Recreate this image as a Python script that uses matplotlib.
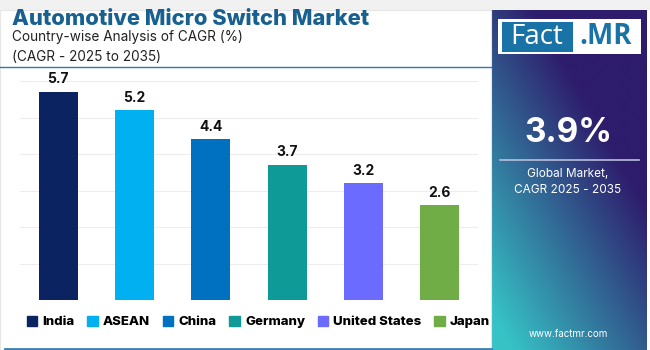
import numpy as np
import matplotlib.pyplot as plt
from matplotlib.patches import Rectangle

countries = ["India", "ASEAN", "China", "Germany", "United States", "Japan"]
cagr = [5.7, 5.2, 4.4, 3.7, 3.2, 2.6]
bar_colors = ["#0b2461", "#00b0f0", "#0070c0", "#0e9b97", "#6b6bff", "#70ad47"]

title = "Automotive Micro Switch Market"
subtitle = "Country-wise Analysis of CAGR (%)\n(CAGR - 2025 to 2035)"
global_cagr = "3.9%"
global_note = "Global Market,\nCAGR 2025 - 2035"
site = "www.factmr.com"

plt.rcParams['font.family'] = ['Inter', 'DejaVu Sans']

W, H = 650, 350
fig = plt.figure(figsize=(6.5, 3.5), dpi=100)
fig.patch.set_facecolor("white")


def fx(px):
    return px / W


def fy(py):
    return 1 - py / H


# light strip at the top and thin frame
fig.patches.append(Rectangle((0, fy(10)), 1, 10 / H, transform=fig.transFigure,
                             facecolor="#f1f1f1", edgecolor="none", zorder=0))
fig.patches.append(Rectangle((0, 0), fx(491), fy(10), transform=fig.transFigure,
                             facecolor="none", edgecolor="#e6e6e6", lw=0.8, zorder=0))

# titles
fig.text(fx(12), fy(19), title, fontsize=15.8, fontweight="heavy", color="#17608f",
         va="center", ha="left")
fig.text(fx(12), fy(47), subtitle, fontsize=9.8, color="#222222", va="center",
         ha="left", linespacing=1.5)
fig.add_artist(plt.Line2D([0, fx(491)], [fy(67), fy(67)], transform=fig.transFigure,
                          color="#2f78b0", lw=1.0))
fig.add_artist(plt.Line2D([fx(5), fx(491)], [fy(348.5), fy(348.5)], transform=fig.transFigure,
                          color="#3b7fb5", lw=2.0))

# bar chart
ax = fig.add_axes([fx(20), 50 / H, fx(458), 219 / H])
x = np.arange(len(countries))
bars = ax.bar(x, cagr, width=0.51, color=bar_colors, zorder=3)
for b, v in zip(bars, cagr):
    ax.text(b.get_x() + b.get_width() / 2, v + 0.15, f"{v:.1f}", ha="center",
            va="bottom", fontsize=10, fontweight="bold", color="#111111")
ax.set_xlim(-0.5, len(countries) - 0.5)
ax.set_ylim(0, 6)
ax.set_yticks(np.arange(0, 7, 1))
ax.grid(axis="y", color="#ededed", lw=0.8, zorder=0)
ax.set_xticks([])
ax.tick_params(left=False, labelleft=False)
for s in ax.spines.values():
    s.set_visible(False)

# legend
handles = [Rectangle((0, 0), 1, 1, color=c) for c in bar_colors]
fig.legend(handles, countries, loc="center left", bbox_to_anchor=(fx(15), fy(322)),
           ncol=len(countries), frameon=False, handlelength=0.8, handleheight=0.8,
           handletextpad=0.4, columnspacing=0.95,
           prop={"weight": "heavy", "size": 9.5})

# right panel with diagonal gradient
pax = fig.add_axes([fx(491), 0, fx(155), fy(10)])
gx, gy = np.meshgrid(np.linspace(0, 1, 200), np.linspace(0, 1, 400))
t = np.clip(0.72 * gx + 0.9 * gy - 0.1, 0, 1)  # 0 at bottom-left, 1 at top-right
c0 = np.array([0x36, 0xc3, 0xc6]) / 255
c1 = np.array([0x2e, 0x1c, 0x6c]) / 255
img = c0[None, None, :] * (1 - t[..., None]) + c1[None, None, :] * t[..., None]
pax.imshow(img, origin="lower", extent=[0, 1, 0, 1], aspect="auto")
pax.set_xlim(0, 1)
pax.set_ylim(0, 1)
pax.axis("off")

# logo
fig.patches.append(Rectangle((fx(498), fy(54)), fx(143), 35 / H, transform=fig.transFigure,
                             facecolor="white", edgecolor="none", zorder=2))
fig.patches.append(Rectangle((fx(502), fy(51.5)), fx(71), 29.5 / H, transform=fig.transFigure,
                             facecolor="#1a73a6", edgecolor="none", zorder=3))
fig.text(fx(537), fy(37), "Fact", fontsize=20, color="white", ha="center", va="center",
         zorder=4, family=["Open Sans", "DejaVu Sans"])
fig.text(fx(606), fy(37), ".MR", fontsize=20, color="#1a73a6", ha="center", va="center",
         fontweight="bold", zorder=4, family=["Open Sans", "DejaVu Sans"])

fig.text(fx(568), fy(133), global_cagr, fontsize=24, fontweight="bold", color="white",
         ha="center", va="center")
fig.add_artist(plt.Line2D([fx(500), fx(639)], [fy(160), fy(160)], transform=fig.transFigure,
                          color="#b9bfdc", lw=1.2))
fig.text(fx(568), fy(182), global_note, fontsize=8.5, color="white", ha="center",
         va="center", linespacing=1.45)
fig.text(fx(568), fy(334), site, fontsize=7, color="white", ha="center", va="center")

fig.savefig("out.png", dpi=100, facecolor=fig.get_facecolor())
